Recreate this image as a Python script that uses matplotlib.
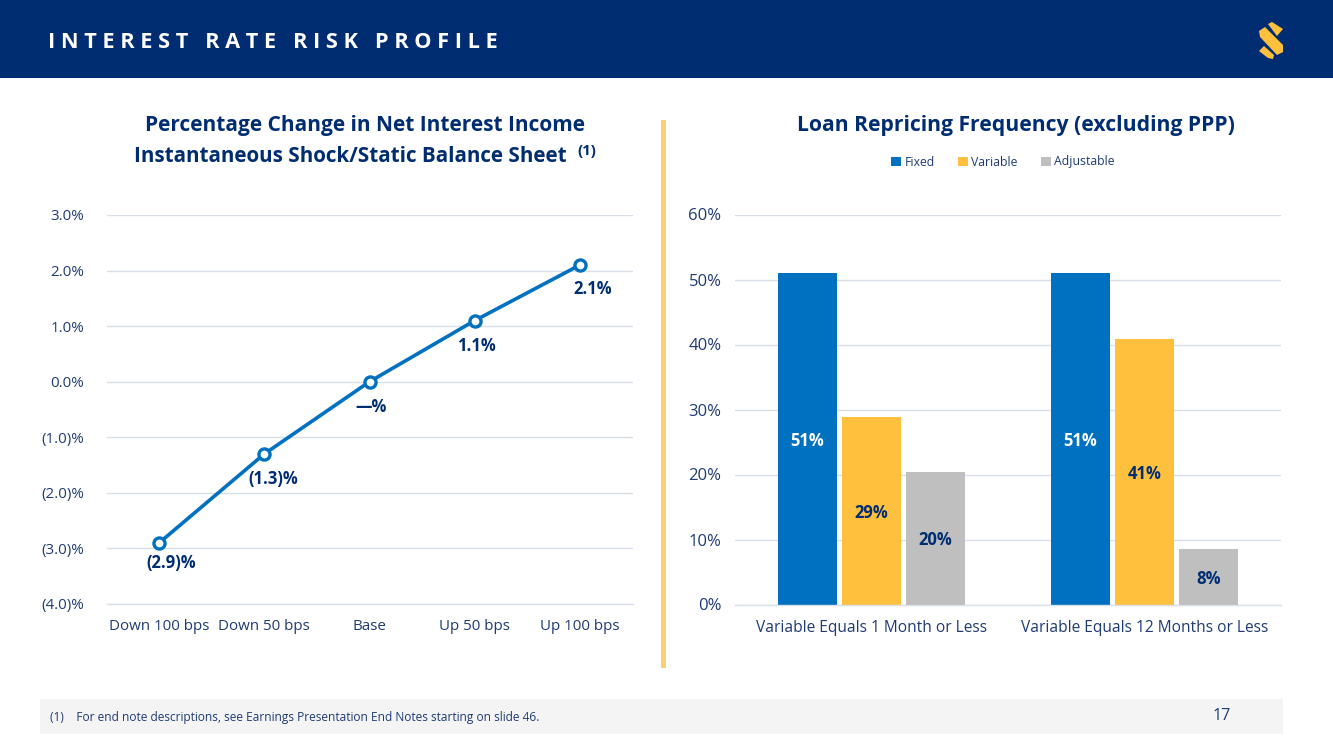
import matplotlib
matplotlib.use("Agg")
import matplotlib.pyplot as plt
from matplotlib.patches import Polygon, Rectangle
import numpy as np

plt.rcParams['font.family'] = ['Open Sans', 'DejaVu Sans']

NAVY = "#002d72"
TEXT = "#1f3b73"
BLUE = "#0070c0"
GOLD = "#ffc03d"
GREY = "#bfbfbf"
GRID = "#d9dfe8"

# left chart
scenarios = ["Down 100 bps", "Down 50 bps", "Base", "Up 50 bps", "Up 100 bps"]
nii_change = [-2.9, -1.3, 0.0, 1.1, 2.1]
nii_labels = ["(2.9)%", "(1.3)%", "—%", "1.1%", "2.1%"]
nii_ticks = [-4, -3, -2, -1, 0, 1, 2, 3]
nii_ticklabels = ["(4.0)%", "(3.0)%", "(2.0)%", "(1.0)%", "0.0%", "1.0%", "2.0%", "3.0%"]

# right chart
groups = ["Variable Equals 1 Month or Less", "Variable Equals 12 Months or Less"]
fixed = [51.0, 51.0]
variable = [28.8, 40.8]
adjustable = [20.4, 8.5]
fixed_labels = ["51%", "51%"]
variable_labels = ["29%", "41%"]
adjustable_labels = ["20%", "8%"]
loan_ticks = [0, 10, 20, 30, 40, 50, 60]

W, H = 1333, 749
fig = plt.figure(figsize=(W / 100, H / 100), dpi=100, facecolor="white")

def add_axes(x0, y0, x1, y1):
    # pixel box, y measured from the top
    return fig.add_axes([x0 / W, 1 - y1 / H, (x1 - x0) / W, (y1 - y0) / H])

def clean_spines(a):
    for name, s in a.spines.items():
        s.set_visible(name == "bottom")
    a.spines["bottom"].set_color(GRID)
    a.spines["bottom"].set_linewidth(1)

# page furniture in pixel coordinates
bg = fig.add_axes([0, 0, 1, 1])
bg.set_xlim(0, W)
bg.set_ylim(H, 0)
bg.axis("off")
bg.add_patch(Rectangle((0, 0), W, 78, color=NAVY, lw=0))
bg.add_patch(Rectangle((40, 699), 1243, 35, color="#f4f4f5", lw=0))
bg.add_patch(Rectangle((661, 120), 5, 548, color="#fdd06f", lw=0))
bg.text(48.5, 42, "I N T E R E S T   R A T E   R I S K   P R O F I L E", color="white",
        fontsize=15.65, fontweight="bold", va="center", ha="left")
bg.text(50, 718, "(1)    For end note descriptions, see Earnings Presentation End Notes starting on slide 46.",
        color=TEXT, fontsize=8.55, va="center", ha="left")
bg.text(1222, 716, "17", color=TEXT, fontsize=11.5, va="center", ha="center")

# logo
for pts in [
    [(1268, 24), (1272, 22), (1283, 29), (1277, 36)],
    [(1259, 31), (1265, 27), (1283, 45), (1283, 52), (1277, 55), (1260, 37)],
    [(1259, 51), (1264, 46), (1274, 55), (1273, 59), (1268, 58)],
]:
    bg.add_patch(Polygon(pts, closed=True, color=GOLD, lw=0))

bg.text(365, 125.5, "Percentage Change in Net Interest Income", color=NAVY, fontsize=15,
        fontweight="bold", ha="center", va="center")
bg.text(134, 156, "Instantaneous Shock/Static Balance Sheet", color=NAVY, fontsize=14.9,
        fontweight="bold", ha="left", va="center")
bg.text(577, 151, "(1)", color=NAVY, fontsize=10.8, fontweight="bold", ha="left", va="center")
bg.text(1015.5, 126, "Loan Repricing Frequency (excluding PPP)", color=NAVY, fontsize=15.25,
        fontweight="bold", ha="center", va="center")

# left chart
ax = add_axes(106.5, 215, 632.5, 604)
x = np.arange(len(scenarios))
ax.plot(x, nii_change, color=BLUE, lw=2.6, marker="o", ms=8, mfc="white", mec=BLUE, mew=2.4,
        solid_capstyle="round", zorder=3)
# label offsets from the point, in pixels
label_dx = [12, 9, 2, 2, 13]
label_dy = [20, 25, 25, 25, 24]
for xi, yi, lab, dx, dy in zip(x, nii_change, nii_labels, label_dx, label_dy):
    ax.annotate(lab, (xi, yi), xytext=(dx * 0.72, -dy * 0.72),
                textcoords="offset points", color=NAVY, fontsize=12, fontweight="bold",
                ha="center", va="center")
ax.set_xlim(-0.5, 4.5)
ax.set_ylim(-4, 3)
ax.set_xticks(x, scenarios)
ax.set_yticks(nii_ticks, nii_ticklabels)
ax.tick_params(length=0, labelcolor=TEXT, labelsize=10.9)
ax.tick_params(axis="x", pad=10.5)
ax.tick_params(axis="y", pad=16)
ax.grid(axis="y", color=GRID, lw=1)
ax.set_axisbelow(True)
clean_spines(ax)

# right chart
ax2 = add_axes(734.7, 214.5, 1280.7, 604.5)
gx = np.arange(len(groups))
bw = 59 / 273
step = 64 / 273
series = [
    ("Fixed", fixed, BLUE, fixed_labels, "white"),
    ("Variable", variable, GOLD, variable_labels, NAVY),
    ("Adjustable", adjustable, GREY, adjustable_labels, NAVY),
]
for i, (name, vals, col, labs, lab_col) in enumerate(series):
    bars = ax2.bar(gx + (i - 1) * step, vals, bw, color=col, label=name, zorder=2)
    labels = ax2.bar_label(bars, labels=labs, label_type="center", color=lab_col, fontsize=12, fontweight="bold")
    for t in labels:
        t.set_y(t.get_position()[1] - 1.5)
ax2.set_xlim(-0.5, 1.5)
ax2.set_ylim(0, 60)
ax2.set_xticks(gx, groups)
ax2.set_yticks(loan_ticks, [f"{t}%" for t in loan_ticks])
ax2.tick_params(length=0, labelcolor=TEXT)
ax2.tick_params(axis="x", pad=11.5, labelsize=11.2)
ax2.tick_params(axis="y", pad=9.5, labelsize=12)
ax2.grid(axis="y", color=GRID, lw=1)
ax2.set_axisbelow(True)
clean_spines(ax2)
ax2.legend(loc="center", bbox_to_anchor=(1003 / W, 1 - 162 / H), bbox_transform=fig.transFigure,
           ncol=3, frameon=False, fontsize=8.8, labelcolor=TEXT, handlelength=0.8, handleheight=0.8,
           handletextpad=0.3, columnspacing=1.9)

fig.savefig("out.png", dpi=100)
